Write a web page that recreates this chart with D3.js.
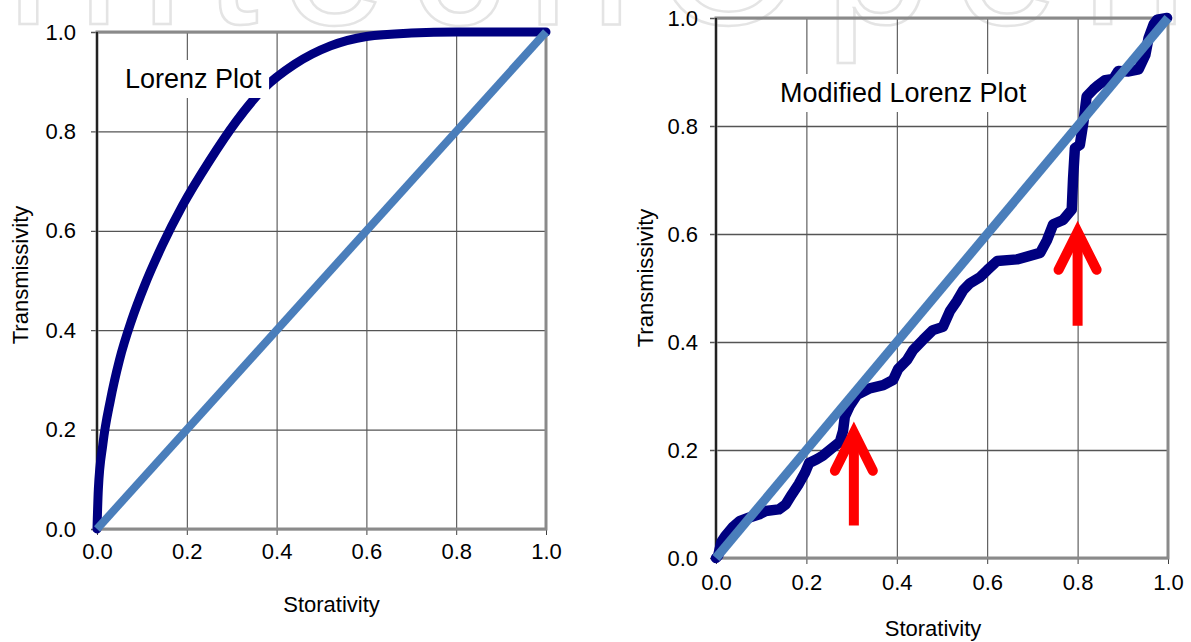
<!DOCTYPE html>
<html>
<head>
<meta charset="utf-8">
<script src="https://cdn.jsdelivr.net/npm/d3@7"></script>
<style>
  body { margin: 0; background: #fff; }
  svg { display: block; font-family: "Liberation Sans", Arial, sans-serif; }
</style>
</head>
<body>
<script>
// tick values shared by both axes
var ticks = [0, 0.2, 0.4, 0.6, 0.8, 1.0];

// left panel: Lorenz curve (storativity, transmissivity)
var lorenzX = [0, 0.003, 0.013, 0.03, 0.05, 0.077, 0.106, 0.145, 0.19, 0.25, 0.31, 0.37, 0.44, 0.52, 0.6, 0.7, 0.8, 1.0];
var lorenzY = [0, 0.08, 0.17, 0.26, 0.34, 0.42, 0.49, 0.57, 0.65, 0.74, 0.82, 0.885, 0.935, 0.972, 0.991, 0.998, 1.0, 1.0];

// right panel: modified Lorenz curve
var modX = [0, 0.005, 0.012, 0.02, 0.038, 0.052, 0.074, 0.096, 0.11, 0.139, 0.154, 0.168, 0.183, 0.197,
  0.206, 0.223, 0.237, 0.259, 0.274, 0.281, 0.285, 0.296, 0.312, 0.34, 0.37, 0.392, 0.403, 0.423, 0.436,
  0.458, 0.48, 0.502, 0.518, 0.533, 0.547, 0.562, 0.584, 0.6, 0.622, 0.666, 0.688, 0.717, 0.732, 0.746,
  0.768, 0.787, 0.79, 0.794, 0.805, 0.813, 0.82, 0.835, 0.846, 0.861, 0.879, 0.89, 0.913, 0.935, 0.95,
  0.957, 0.968, 0.976, 0.998];
var modY = [0, 0.005, 0.03, 0.04, 0.058, 0.068, 0.075, 0.081, 0.087, 0.09, 0.099, 0.118, 0.137, 0.158,
  0.176, 0.183, 0.19, 0.205, 0.215, 0.235, 0.262, 0.282, 0.302, 0.314, 0.32, 0.33, 0.35, 0.367, 0.385,
  0.404, 0.422, 0.428, 0.458, 0.476, 0.496, 0.509, 0.52, 0.533, 0.55, 0.553, 0.558, 0.565, 0.588, 0.618,
  0.626, 0.645, 0.703, 0.759, 0.765, 0.808, 0.855, 0.868, 0.876, 0.885, 0.887, 0.902, 0.901, 0.905, 0.932,
  0.963, 0.988, 0.997, 1.0];

// equality line
var diagX = [0, 1];
var diagY = [0, 1];

// red arrows on the right panel
var arrowX = [0.305, 0.8];
var arrowTip = [0.232, 0.604];
var arrowBase = [0.06, 0.43];

var W = 1191, H = 642;
var navy = "#000080", blue = "#4a7ebb";

var svg = d3.select("body").append("svg")
  .attr("width", W).attr("height", H);

// faint watermark along the top edge
svg.append("text")
  .attr("x", 2).attr("y", 24)
  .attr("textLength", 1185).attr("lengthAdjust", "spacing")
  .style("font-size", "190px")
  .style("fill", "#fff")
  .style("stroke", "#e4e4e4")
  .style("stroke-width", 2.5)
  .text("IntechOpen");

function toPoints(xs, ys) {
  return xs.map(function(d, i) { return [d, ys[i]]; });
}

function panel(opt) {
  var x = d3.scaleLinear().domain([0, 1]).range([opt.left, opt.right]);
  var y = d3.scaleLinear().domain([0, 1]).range([opt.bottom, opt.top]);
  var g = svg.append("g");
  var pw = opt.right - opt.left, ph = opt.bottom - opt.top;

  // gridlines
  g.append("g")
    .attr("transform", "translate(0," + opt.top + ")")
    .call(d3.axisBottom(x).tickValues(ticks).tickSize(ph + 6).tickFormat(""))
    .call(function(s) {
      s.select(".domain").remove();
      s.selectAll("line").attr("stroke", "#404040").attr("stroke-width", 1)
        .attr("y1", 0).attr("y2", ph + 6);
    });
  g.append("g")
    .attr("transform", "translate(" + opt.left + ",0)")
    .call(d3.axisRight(y).tickValues(ticks).tickSize(pw).tickFormat(""))
    .call(function(s) {
      s.select(".domain").remove();
      s.selectAll("line").attr("stroke", "#555").attr("stroke-width", 1.3)
        .attr("x1", -6);
    });

  // plot frame
  g.append("rect")
    .attr("x", opt.left).attr("y", opt.top)
    .attr("width", pw).attr("height", ph)
    .attr("fill", "none").attr("stroke", "#8a8a8a").attr("stroke-width", 3);
  g.append("line")
    .attr("x1", opt.left).attr("x2", opt.left)
    .attr("y1", opt.top).attr("y2", opt.bottom + 1)
    .attr("stroke", "#222").attr("stroke-width", 2);

  // tick labels
  g.append("g")
    .attr("transform", "translate(0," + opt.bottom + ")")
    .call(d3.axisBottom(x).tickValues(ticks).tickSize(0).tickPadding(opt.xPad).tickFormat(d3.format(".1f")))
    .call(function(s) {
      s.select(".domain").remove();
      s.selectAll("text").style("font-size", "22px").attr("fill", "#000")
        .style("font-family", "'Liberation Sans', Arial, sans-serif");
    });
  g.append("g")
    .attr("transform", "translate(" + opt.left + ",0)")
    .call(d3.axisLeft(y).tickValues(ticks).tickSize(0).tickPadding(opt.yPad).tickFormat(d3.format(".1f")))
    .call(function(s) {
      s.select(".domain").remove();
      s.selectAll("text").style("font-size", "22px").attr("fill", "#000")
        .style("font-family", "'Liberation Sans', Arial, sans-serif");
    });

  // axis titles
  g.append("text")
    .attr("x", (opt.left + opt.right) / 2 + opt.xTitleShift).attr("y", opt.xTitleY)
    .attr("text-anchor", "middle").style("font-size", "22px")
    .text("Storativity");
  g.append("text")
    .attr("transform", "translate(" + opt.yTitleX + "," + opt.yTitleMid + ") rotate(-90)")
    .attr("text-anchor", "middle").style("font-size", "22px")
    .text("Transmissivity");

  // curves
  g.append("path")
    .datum(toPoints(opt.cx, opt.cy))
    .attr("fill", "none").attr("stroke", navy).attr("stroke-width", opt.curveW)
    .attr("stroke-linejoin", "round").attr("stroke-linecap", "round")
    .attr("d", d3.line().x(function(d) { return x(d[0]); }).y(function(d) { return y(d[1]); })
      .curve(opt.curve));
  g.append("path")
    .datum(toPoints(diagX, diagY))
    .attr("fill", "none").attr("stroke", blue).attr("stroke-width", opt.diagW)
    .attr("d", d3.line().x(function(d) { return x(d[0]); }).y(function(d) { return y(d[1]); }));

  // title box
  var t = g.append("text")
    .attr("x", opt.labelX).attr("y", opt.labelY)
    .style("font-size", "27px")
    .text(opt.label);
  var bb = t.node().getBBox();
  g.insert("rect", function() { return t.node(); })
    .attr("x", bb.x - 7).attr("y", bb.y - 4)
    .attr("width", bb.width + 14).attr("height", bb.height + 8)
    .attr("fill", "#fff");

  return {x: x, y: y, g: g};
}

var left = panel({
  left: 97, right: 546, top: 32, bottom: 529,
  xPad: 14, yPad: 21, xTitleY: 612, xTitleShift: 10, yTitleX: 28, yTitleMid: 275,
  cx: lorenzX, cy: lorenzY, curve: d3.curveMonotoneX, curveW: 9, diagW: 8,
  label: "Lorenz Plot", labelX: 125, labelY: 88
});

var right = panel({
  left: 716, right: 1168, top: 18, bottom: 558,
  xPad: 16, yPad: 18, xTitleY: 636, xTitleShift: -9, yTitleX: 653, yTitleMid: 278,
  cx: modX, cy: modY, curve: d3.curveLinear, curveW: 10.5, diagW: 9,
  label: "Modified Lorenz Plot", labelX: 780, labelY: 102
});

// red arrows
arrowX.forEach(function(ax, i) {
  var px = right.x(ax), tip = right.y(arrowTip[i]), base = right.y(arrowBase[i]);
  right.g.append("line")
    .attr("x1", px).attr("x2", px).attr("y1", base).attr("y2", tip + 6)
    .attr("stroke", "#ff0000").attr("stroke-width", 10);
  right.g.append("path")
    .attr("d", "M" + (px - 19) + "," + (tip + 38) + "L" + px + "," + tip + "L" + (px + 19) + "," + (tip + 38))
    .attr("fill", "none").attr("stroke", "#ff0000").attr("stroke-width", 10)
    .attr("stroke-linecap", "round").attr("stroke-linejoin", "miter");
});
</script>
</body>
</html>
